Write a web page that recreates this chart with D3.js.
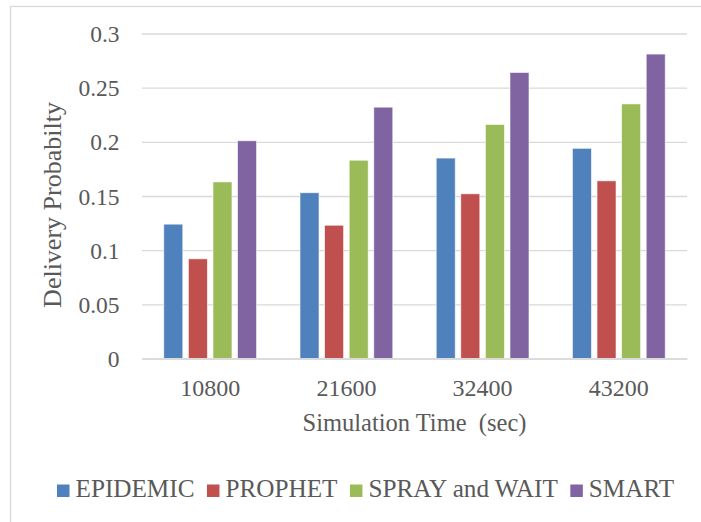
<!DOCTYPE html>
<html>
<head>
<meta charset="utf-8">
<title>Delivery Probability</title>
<style>
  body { margin: 0; background: #fff; }
  text { font-family: "Liberation Serif", "Times New Roman", serif; fill: #595959; }
</style>
</head>
<body>
<div id="chart"></div>
<script src="https://cdn.jsdelivr.net/npm/d3@7/dist/d3.min.js"></script>
<script>
// data
var categories = ["10800", "21600", "32400", "43200"];
var seriesNames = ["EPIDEMIC", "PROPHET", "SPRAY and WAIT", "SMART"];
var epidemic = [0.124, 0.153, 0.185, 0.194];
var prophet  = [0.092, 0.123, 0.152, 0.164];
var sprayWait = [0.163, 0.183, 0.216, 0.235];
var smart    = [0.201, 0.232, 0.264, 0.281];
var yTicks = [0, 0.05, 0.1, 0.15, 0.2, 0.25, 0.3];
var yTickLabels = ["0", "0.05", "0.1", "0.15", "0.2", "0.25", "0.3"];

var seriesValues = [epidemic, prophet, sprayWait, smart];
var colors = ["#4f81bd", "#c0504d", "#9bbb59", "#8064a2"];

var width = 701, height = 522;
var plot = { left: 142, right: 687, top: 33.5, bottom: 358.5 };

var svg = d3.select("#chart").append("svg")
    .attr("width", width)
    .attr("height", height);

// chart frame (runs off the right and bottom edges in the original)
svg.append("rect")
    .attr("x", 10.5).attr("y", 6.5)
    .attr("width", 800).attr("height", 600)
    .attr("fill", "none")
    .attr("stroke", "#d9d9d9")
    .attr("stroke-width", 1.3);

var y = d3.scaleLinear().domain([0, 0.3]).range([plot.bottom, plot.top]);
var x0 = d3.scaleBand().domain(categories)
    .range([plot.left, plot.right])
    .paddingInner(0.319).paddingOuter(0.16);
var x1 = d3.scaleBand().domain(seriesNames)
    .range([0, x0.bandwidth()])
    .paddingInner(0.228);

// y axis + gridlines
var yAxis = svg.append("g")
    .attr("transform", "translate(" + plot.left + ",0)")
    .call(d3.axisLeft(y)
      .tickValues(yTicks)
      .tickSize(-(plot.right - plot.left))
      .tickFormat(function(d, i) { return yTickLabels[i]; }));
yAxis.select(".domain").remove();
yAxis.selectAll("line")
    .attr("stroke", "#d9d9d9")
    .attr("stroke-width", 1.3);
yAxis.selectAll("text")
    .attr("x", -22.5)
    .attr("dy", "0.34em")
    .style("font-size", "23.5px")
    .style("font-family", "'Liberation Serif', serif")
    .attr("fill", "#595959");

// bars
var groups = svg.append("g").selectAll("g")
    .data(categories)
    .join("g")
    .attr("transform", function(d) { return "translate(" + x0(d) + ",0)"; });

groups.selectAll("rect")
    .data(function(d, ci) {
      return seriesNames.map(function(s, si) {
        return { series: s, value: seriesValues[si][ci], color: colors[si] };
      });
    })
    .join("rect")
    .attr("x", function(d) { return x1(d.series); })
    .attr("y", function(d) { return y(d.value); })
    .attr("width", x1.bandwidth())
    .attr("height", function(d) { return y(0) - y(d.value); })
    .attr("fill", function(d) { return d.color; })
    .attr("stroke", "#ffffff")
    .attr("stroke-opacity", 0.7)
    .attr("stroke-width", 0.8);

// x axis
var xAxis = svg.append("g")
    .attr("transform", "translate(0," + plot.bottom + ")")
    .call(d3.axisBottom(x0).tickSize(0).tickSizeOuter(0));
xAxis.select(".domain")
    .attr("stroke", "#d9d9d9")
    .attr("stroke-width", 1.6);
xAxis.selectAll("text")
    .attr("y", 37.5)
    .attr("dy", null)
    .style("font-size", "24px")
    .style("font-family", "'Liberation Serif', serif")
    .attr("fill", "#595959");

// axis titles
svg.append("text")
    .attr("x", (plot.left + plot.right) / 2)
    .attr("y", 431)
    .attr("text-anchor", "middle")
    .style("font-size", "24.5px")
    .style("white-space", "pre")
    .attr("xml:space", "preserve")
    .text("Simulation Time  (sec)");

svg.append("text")
    .attr("transform", "translate(61,205) rotate(-90)")
    .attr("text-anchor", "middle")
    .style("font-size", "26px")
    .text("Delivery Probabilty");

// legend
var legend = svg.append("g");
var lx = 57;
seriesNames.forEach(function(name, i) {
  legend.append("rect")
      .attr("x", lx).attr("y", 484.5)
      .attr("width", 12.5).attr("height", 12.5)
      .attr("fill", colors[i]);
  var t = legend.append("text")
      .attr("x", lx + 18.5)
      .attr("y", 497)
      .style("font-size", "25.2px")
      .text(name);
  lx += 18.5 + t.node().getComputedTextLength() + 12.5;
});
</script>
</body>
</html>
